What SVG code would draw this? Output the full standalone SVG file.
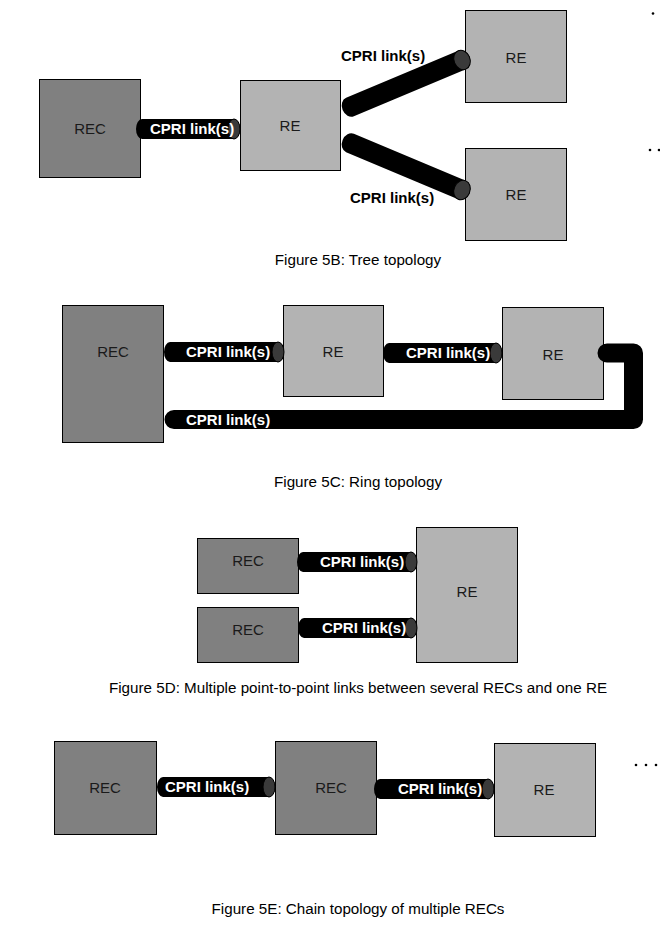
<svg xmlns="http://www.w3.org/2000/svg" width="660" height="932" viewBox="0 0 660 932">
<style>
.rec{fill:#808080;stroke:#000;stroke-width:1}
.re{fill:#b3b3b3;stroke:#000;stroke-width:1}
.bl{font-family:"Liberation Sans",Arial,sans-serif;font-size:15px;fill:#1a1a1a;text-anchor:middle}
.ll{font-family:"Liberation Sans",Arial,sans-serif;font-size:15px;font-weight:bold;fill:#fff}
.lk{font-family:"Liberation Sans",Arial,sans-serif;font-size:15px;font-weight:bold;fill:#000}
.cap{font-family:"Liberation Sans",Arial,sans-serif;font-size:15.2px;fill:#000;text-anchor:middle}
.body{fill:#000}
.end{fill:#3a3a3a;stroke:#000;stroke-width:1}
.ring{fill:none;stroke:#000;stroke-width:19;stroke-linecap:round;stroke-linejoin:round}
</style>
<rect width="660" height="932" fill="#fff"/>

<!-- Figure 5B -->
<g id="b-rec"><rect class="rec" x="39.5" y="79.5" width="101" height="98"/><text class="bl" x="90" y="134">REC</text></g>
<g id="b-re1"><rect class="re" x="240.5" y="80.5" width="100" height="90"/><text class="bl" x="290" y="131">RE</text></g>
<g id="b-re2"><rect class="re" x="465.5" y="10.5" width="101" height="92"/><text class="bl" x="516" y="63">RE</text></g>
<g id="b-re3"><rect class="re" x="465.5" y="148.5" width="101" height="92"/><text class="bl" x="516" y="200">RE</text></g>

<!-- Figure 5C -->
<g id="c-rec"><rect class="rec" x="62.5" y="305.5" width="101" height="137"/><text class="bl" x="113" y="357">REC</text></g>
<g id="c-re1"><rect class="re" x="283.5" y="305.5" width="100" height="91"/><text class="bl" x="333" y="357">RE</text></g>
<g id="c-re2"><rect class="re" x="502.5" y="307.5" width="101" height="92"/><text class="bl" x="553" y="360">RE</text></g>

<!-- Figure 5D -->
<g id="d-rec1"><rect class="rec" x="197.5" y="538.5" width="101" height="55"/><text class="bl" x="248" y="566">REC</text></g>
<g id="d-rec2"><rect class="rec" x="197.5" y="607.5" width="101" height="55"/><text class="bl" x="248" y="635">REC</text></g>
<g id="d-re"><rect class="re" x="416.5" y="527.5" width="101" height="135"/><text class="bl" x="467" y="597">RE</text></g>

<!-- Figure 5E -->
<g id="e-rec1"><rect class="rec" x="54.5" y="741.5" width="102" height="93"/><text class="bl" x="105" y="793">REC</text></g>
<g id="e-rec2"><rect class="rec" x="275.5" y="741.5" width="101" height="93"/><text class="bl" x="331" y="793">REC</text></g>
<g id="e-re"><rect class="re" x="494.5" y="743.5" width="101" height="93"/><text class="bl" x="544" y="795">RE</text></g>

<g id="connectors">
  <!-- 5B REC-RE -->
  <g><path class="body" d="M142,119 H234 A6 10 0 0 1 234,139 H142 A6 10 0 0 1 142,119 Z"/><ellipse class="end" cx="234" cy="129" rx="6" ry="10"/><text class="ll" x="150" y="134">CPRI link(s)</text></g>
  <!-- 5B diagonals -->
  <g transform="translate(350,107) rotate(-22.8)"><path class="body" d="M0,-10 H121.5 A8 10 0 0 1 121.5,10 H0 A8 10 0 0 1 0,-10 Z"/><ellipse class="end" cx="121.5" cy="0" rx="8" ry="10"/></g>
  <text class="lk" x="341" y="61">CPRI link(s)</text>
  <g transform="translate(350,143) rotate(22.8)"><path class="body" d="M0,-10 H121.5 A8 10 0 0 1 121.5,10 H0 A8 10 0 0 1 0,-10 Z"/><ellipse class="end" cx="121.5" cy="0" rx="8" ry="10"/></g>
  <text class="lk" x="350" y="203">CPRI link(s)</text>

  <!-- 5C -->
  <g><path class="body" d="M170,342 H278 A6 10 0 0 1 278,362 H170 A6 10 0 0 1 170,342 Z"/><ellipse class="end" cx="278" cy="352" rx="6" ry="10"/><text class="ll" x="186" y="357">CPRI link(s)</text></g>
  <g><path class="body" d="M389,343 H496 A6 10 0 0 1 496,363 H389 A6 10 0 0 1 389,343 Z"/><ellipse class="end" cx="496" cy="353" rx="6" ry="10"/><text class="ll" x="406" y="358">CPRI link(s)</text></g>
  <g><path class="ring" d="M607,353 H633.5 V419.5 H174"/><text class="ll" x="186" y="425">CPRI link(s)</text></g>

  <!-- 5D -->
  <g><path class="body" d="M303,552 H411 A6 10 0 0 1 411,572 H303 A6 10 0 0 1 303,552 Z"/><ellipse class="end" cx="411" cy="562" rx="6" ry="10"/><text class="ll" x="320" y="567">CPRI link(s)</text></g>
  <g><path class="body" d="M304,618 H411 A6 10 0 0 1 411,638 H304 A6 10 0 0 1 304,618 Z"/><ellipse class="end" cx="411" cy="628" rx="6" ry="10"/><text class="ll" x="322" y="633">CPRI link(s)</text></g>

  <!-- 5E -->
  <g><path class="body" d="M163,777 H269 A6 10 0 0 1 269,797 H163 A6 10 0 0 1 163,777 Z"/><ellipse class="end" cx="269" cy="787" rx="6" ry="10"/><text class="ll" x="165" y="792">CPRI link(s)</text></g>
  <g><path class="body" d="M380,779 H488 A6 10 0 0 1 488,799 H380 A6 10 0 0 1 380,779 Z"/><ellipse class="end" cx="488" cy="789" rx="6" ry="10"/><text class="ll" x="398" y="794">CPRI link(s)</text></g>
</g>

<!-- ellipsis dots -->
<g fill="#000">
  <circle cx="653" cy="13.5" r="1.3"/>
  <circle cx="650" cy="150" r="1.3"/><circle cx="659" cy="150" r="1.3"/>
  <circle cx="636" cy="765" r="1.3"/><circle cx="646" cy="765" r="1.3"/><circle cx="656" cy="765" r="1.3"/>
</g>

<text class="cap" x="358" y="265">Figure 5B: Tree topology</text>
<text class="cap" x="358" y="487">Figure 5C: Ring topology</text>
<text class="cap" x="358" y="693">Figure 5D: Multiple point-to-point links between several RECs and one RE</text>
<text class="cap" x="358" y="914">Figure 5E: Chain topology of multiple RECs</text>
</svg>
